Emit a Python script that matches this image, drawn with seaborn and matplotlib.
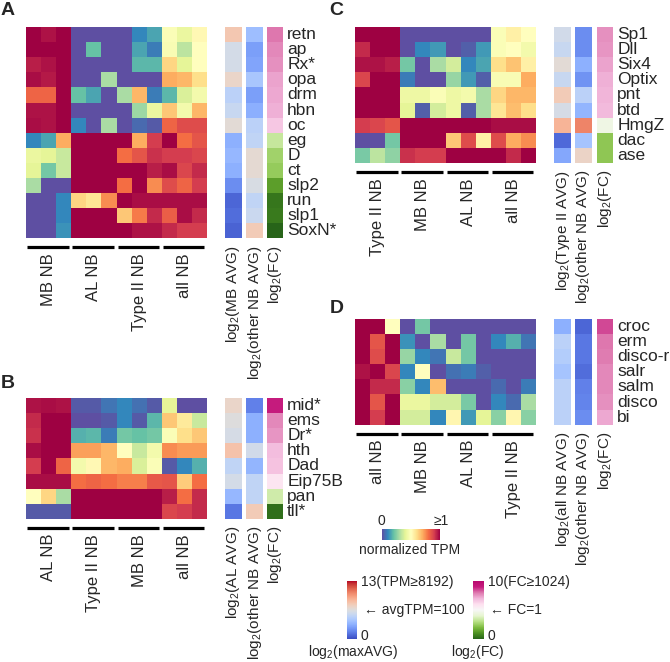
import numpy as np
import pandas as pd
import matplotlib
matplotlib.use('Agg')
import matplotlib.pyplot as plt
import matplotlib.colors as mcolors
import seaborn as sns

sns.set_style('white')
plt.rcParams['font.family'] = ['Liberation Sans', 'DejaVu Sans']
plt.rcParams['mathtext.default'] = 'regular'

# ---- data (normalized TPM 0-1, avg in log2 TPM 0-13, FC in log2 -10..10) ----
A_genes = ['retn', 'ap', 'Rx*', 'opa', 'drm', 'hbn', 'oc', 'eg', 'D', 'ct', 'slp2', 'run', 'slp1', 'SoxN*']
A_groups = ['MB NB', 'AL NB', 'Type II NB', 'all NB']
A_tpm = [
    [1.0, 0.97, 1.0, 0.0, 0.0, 0.0, 0.0, 0.10, 0.15, 0.48, 0.42, 0.52],
    [1.0, 1.0, 1.0, 0.0, 0.20, 0.0, 0.0, 0.15, 0.08, 0.47, 0.33, 0.50],
    [0.95, 0.97, 1.0, 0.0, 0.0, 0.0, 0.0, 0.18, 0.18, 0.62, 0.40, 0.50],
    [0.98, 0.96, 1.0, 0.0, 0.0, 0.30, 0.0, 0.0, 0.0, 0.70, 0.68, 0.60],
    [0.82, 0.82, 1.0, 0.20, 0.15, 0.0, 0.30, 0.68, 0.08, 0.18, 0.38, 0.45],
    [0.97, 0.97, 1.0, 0.0, 0.0, 0.0, 0.0, 0.28, 0.42, 0.65, 0.45, 0.68],
    [0.98, 0.97, 1.0, 0.10, 0.0, 0.30, 0.0, 0.05, 0.02, 0.82, 0.87, 0.87],
    [0.10, 0.15, 0.70, 1.0, 1.0, 1.0, 1.0, 0.70, 0.90, 1.0, 0.80, 0.85],
    [0.42, 0.40, 0.35, 1.0, 1.0, 1.0, 0.80, 0.85, 0.92, 0.90, 0.90, 0.88],
    [0.40, 0.22, 0.35, 1.0, 1.0, 1.0, 1.0, 1.0, 0.95, 0.98, 0.88, 0.93],
    [0.30, 0.0, 0.0, 1.0, 1.0, 1.0, 0.80, 1.0, 0.75, 0.87, 0.82, 0.90],
    [0.0, 0.0, 0.10, 0.62, 0.58, 0.75, 1.0, 0.98, 0.98, 0.98, 0.98, 0.98],
    [0.0, 0.0, 0.10, 1.0, 1.0, 1.0, 0.65, 0.78, 0.93, 0.83, 0.98, 0.93],
    [0.0, 0.0, 0.12, 1.0, 1.0, 1.0, 1.0, 0.97, 0.97, 0.93, 0.90, 0.90],
]
A_avg = [8.0, 6.0, 6.0, 7.2, 5.0, 5.5, 6.8, 3.3, 3.6, 3.3, 2.0, 0.8, 1.0, 0.7]
A_other = [3.9, 2.6, 2.8, 4.3, 2.6, 3.2, 5.0, 5.2, 6.9, 6.9, 6.2, 5.2, 5.6, 7.8]
A_fc = [6.0, 5.4, 5.2, 4.6, 4.4, 4.2, 3.2, -3.4, -4.8, -5.2, -7.4, -9.2, -9.0, -10.0]

B_genes = ['mid*', 'ems', 'Dr*', 'hth', 'Dad', 'Eip75B', 'pan', 'tll*']
B_groups = ['AL NB', 'Type II NB', 'MB NB', 'all NB']
B_tpm = [
    [0.97, 0.98, 0.97, 0.02, 0.02, 0.07, 0.10, 0.06, 0.02, 0.40, 0.0, 0.0],
    [0.93, 1.0, 1.0, 0.0, 0.0, 0.02, 0.10, 0.02, 0.18, 0.65, 0.57, 0.35],
    [0.92, 1.0, 1.0, 0.17, 0.18, 0.08, 0.22, 0.20, 0.22, 0.48, 0.60, 0.65],
    [0.98, 1.0, 1.0, 0.72, 0.72, 0.68, 0.50, 0.35, 0.45, 0.75, 0.73, 0.73],
    [0.90, 1.0, 0.82, 0.45, 0.52, 0.68, 0.70, 0.38, 0.48, 0.02, 0.10, 0.17],
    [0.98, 0.98, 0.98, 0.80, 0.82, 0.80, 0.77, 0.77, 0.84, 0.85, 0.64, 0.80],
    [0.50, 0.62, 0.30, 1.0, 1.0, 1.0, 1.0, 1.0, 1.0, 0.95, 0.80, 0.93],
    [0.02, 0.02, 0.02, 1.0, 1.0, 1.0, 1.0, 1.0, 1.0, 0.88, 0.90, 0.93],
]
B_avg = [7.2, 6.5, 6.1, 8.2, 5.2, 6.0, 3.6, 1.3]
B_other = [1.6, 3.3, 3.3, 5.9, 3.5, 5.2, 5.2, 7.8]
B_fc = [8.0, 5.4, 5.0, 3.6, 3.4, 1.6, -3.0, -9.5]

C_genes = ['Sp1', 'Dll', 'Six4', 'Optix', 'pnt', 'btd', 'HmgZ', 'dac', 'ase']
C_groups = ['Type II NB', 'MB NB', 'AL NB', 'all NB']
C_tpm = [
    [1.0, 1.0, 1.0, 0.0, 0.0, 0.0, 0.0, 0.0, 0.0, 0.48, 0.55, 0.50],
    [0.93, 1.0, 1.0, 0.0, 0.10, 0.13, 0.0, 0.03, 0.13, 0.48, 0.50, 0.45],
    [0.97, 0.97, 0.95, 0.22, 0.0, 0.30, 0.37, 0.10, 0.15, 0.60, 0.66, 0.55],
    [0.88, 1.0, 1.0, 0.08, 0.0, 0.0, 0.27, 0.13, 0.03, 0.47, 0.47, 0.70],
    [1.0, 1.0, 1.0, 0.43, 0.43, 0.48, 0.43, 0.45, 0.30, 0.62, 0.68, 0.68],
    [1.0, 1.0, 1.0, 0.40, 0.03, 0.37, 0.43, 0.03, 0.30, 0.58, 0.67, 0.60],
    [0.90, 0.88, 0.85, 1.0, 1.0, 1.0, 1.0, 1.0, 1.0, 0.98, 0.98, 0.98],
    [0.0, 0.0, 0.22, 1.0, 1.0, 1.0, 0.65, 0.87, 0.55, 0.87, 0.70, 0.75],
    [0.23, 0.33, 0.26, 0.92, 0.90, 0.90, 1.0, 1.0, 1.0, 1.0, 0.93, 1.0],
]
C_avg = [5.9, 5.5, 6.8, 5.5, 7.8, 6.1, 8.8, 0.9, 2.9]
C_other = [2.0, 2.0, 3.3, 2.2, 5.0, 3.5, 10.4, 4.2, 7.3]
C_fc = [5.2, 5.0, 4.6, 4.2, 4.0, 3.8, -1.0, -5.4, -5.4]

D_genes = ['croc', 'erm', 'disco-r', 'salr', 'salm', 'disco', 'bi']
D_groups = ['all NB', 'MB NB', 'AL NB', 'Type II NB']
D_tpm = [
    [1.0, 1.0, 0.50, 0.0, 0.22, 0.0, 0.0, 0.0, 0.0, 0.0, 0.0, 0.0],
    [1.0, 0.85, 1.0, 0.12, 0.0, 0.30, 0.0, 0.22, 0.0, 0.10, 0.17, 0.07],
    [1.0, 0.87, 1.0, 0.27, 0.10, 0.07, 0.35, 0.22, 0.0, 0.0, 0.0, 0.0],
    [0.97, 1.0, 0.88, 0.10, 0.50, 0.0, 0.06, 0.08, 0.03, 0.0, 0.0, 0.0],
    [1.0, 0.93, 0.93, 0.25, 0.10, 0.67, 0.0, 0.0, 0.0, 0.05, 0.0, 0.08],
    [1.0, 0.85, 1.0, 0.42, 0.42, 0.37, 0.37, 0.23, 0.0, 0.10, 0.05, 0.30],
    [1.0, 0.90, 1.0, 0.37, 0.37, 0.10, 0.53, 0.13, 0.40, 0.25, 0.53, 0.25],
]
D_avg = [3.3, 5.0, 4.7, 4.2, 5.0, 5.0, 5.0]
D_other = [0.8, 1.3, 1.3, 1.0, 1.6, 1.7, 2.0]
D_fc = [7.0, 6.0, 5.8, 5.4, 5.4, 5.2, 4.4]

# ---- layout helpers (pixel coordinates, origin top-left) ----
W, H = 670, 662
fig = plt.figure(figsize=(W / 100, H / 100), dpi=100)

fc_cmap = mcolors.LinearSegmentedColormap.from_list(
    'fc', ['#276419', '#4d9221', '#7fbc41', '#b8e186', '#e6f5d0', '#f7f7f7',
           '#fde0ef', '#f1b6da', '#de77ae', '#c51b7d', '#b8096f'])


def box(x0, y0, x1, y1):
    return fig.add_axes([x0 / W, 1 - y1 / H, (x1 - x0) / W, (y1 - y0) / H])


def ftext(x, y, s, **kw):
    fig.text(x / W, 1 - y / H, s, **kw)


def panel(letter, lx, ly, hx, hy, bx, genes, groups, tpm, avg, other, fc, avg_label):
    nrow = len(genes)
    hy1 = hy + 15.1 * nrow
    ftext(lx, ly, letter, fontsize=14, fontweight='bold', va='top')

    ax = box(hx, hy, hx + 181, hy1)
    sns.heatmap(pd.DataFrame(tpm, index=genes), ax=ax, cmap='Spectral_r', vmin=0, vmax=1,
                cbar=False, xticklabels=False, yticklabels=False)
    for g, name in enumerate(groups):
        ax.plot([g * 3 + 0.08, g * 3 + 2.82], [nrow + 0.6] * 2, color='black', lw=2.3,
                solid_capstyle='butt', clip_on=False)
        ax.text(g * 3 + 1.5, nrow + 1.0, name, rotation=90, ha='center', va='top', fontsize=12)

    cols = [(avg, 'coolwarm', 0, 13, avg_label),
            (other, 'coolwarm', 0, 13, 'log$_2$(other NB AVG)'),
            (fc, fc_cmap, -10, 10, 'log$_2$(FC)')]
    widths = [17, 17, 16]
    for k, (vals, cmap, lo, hi, lab) in enumerate(cols):
        bax = box(bx[k], hy, bx[k] + widths[k], hy1)
        sns.heatmap(pd.DataFrame({'v': vals}, index=genes), ax=bax, cmap=cmap, vmin=lo, vmax=hi,
                    cbar=False, xticklabels=False, yticklabels=(k == 2))
        bax.text(0.5, nrow + 0.45, lab, rotation=90, ha='center', va='top', fontsize=11)
        if k == 2:
            bax.yaxis.tick_right()
            bax.tick_params(axis='y', length=0, pad=3, labelsize=12.5)
            plt.setp(bax.get_yticklabels(), rotation=0, va='center')


panel('A', 1, 2, 26, 27, [225, 246, 267], A_genes, A_groups, A_tpm, A_avg, A_other, A_fc,
      'log$_2$(MB AVG)')
panel('B', 1, 375, 26, 398, [225, 246, 267], B_genes, B_groups, B_tpm, B_avg, B_other, B_fc,
      'log$_2$(AL AVG)')
panel('C', 329, 2, 355, 27, [554, 575, 597], C_genes, C_groups, C_tpm, C_avg, C_other, C_fc,
      'log$_2$(Type II AVG)')
panel('D', 330, 300, 355, 319, [554, 575, 597], D_genes, D_groups, D_tpm, D_avg, D_other, D_fc,
      'log$_2$(all NB AVG)')

# ---- legends ----
cax = box(382, 529, 440, 540)
cb = fig.colorbar(plt.cm.ScalarMappable(norm=mcolors.Normalize(0, 1), cmap='Spectral_r'),
                  cax=cax, orientation='horizontal')
cb.set_ticks([])
cb.outline.set_visible(False)
ftext(381, 521, '0', fontsize=10, ha='center', va='center')
ftext(441, 521, '≥1', fontsize=10, ha='center', va='center')
ftext(410, 550, 'normalized TPM', fontsize=10, ha='center', va='center')

cax = box(347, 581, 357, 639)
cb = fig.colorbar(plt.cm.ScalarMappable(norm=mcolors.Normalize(0, 13), cmap='coolwarm'), cax=cax)
cb.set_ticks([])
cb.outline.set_visible(False)
ftext(361, 582, '13(TPM≥8192)', fontsize=10, va='center')
ftext(361, 636, '0', fontsize=10, va='center')
ftext(364, 610, '← avgTPM=100', fontsize=10, va='center')
ftext(353, 652, 'log$_2$(maxAVG)', fontsize=10, ha='center', va='center')

cax = box(473, 581, 484, 639)
cb = fig.colorbar(plt.cm.ScalarMappable(norm=mcolors.Normalize(-10, 10), cmap=fc_cmap), cax=cax)
cb.set_ticks([])
cb.outline.set_visible(False)
ftext(488, 582, '10(FC≥1024)', fontsize=10, va='center')
ftext(488, 636, '0', fontsize=10, va='center')
ftext(490, 610, '← FC=1', fontsize=10, va='center')
ftext(478, 652, 'log$_2$(FC)', fontsize=10, ha='center', va='center')

fig.savefig('out.png', dpi=100)
